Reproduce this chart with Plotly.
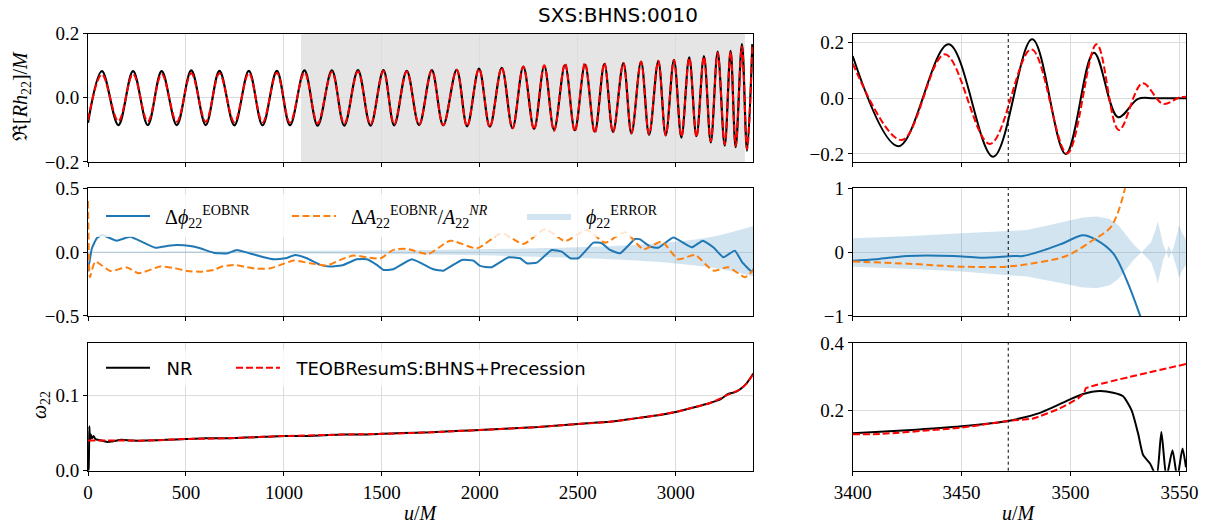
import plotly.graph_objects as go

# ------------------------------------------------------------------ data
# Panel 1 (left): extrema of Re[R h22]/M  (u/M, value)
wave_t = [0, 71, 155, 230, 305, 376, 453, 527, 601, 671, 747, 821, 891, 964, 1031, 1105,
          1172, 1245, 1308, 1378, 1442, 1508, 1563, 1627, 1690, 1755, 1813, 1882, 1935,
          1996, 2051, 2112, 2167, 2222, 2277, 2329, 2379, 2435, 2485, 2537, 2587, 2636,
          2680, 2733, 2774, 2823, 2864, 2911, 2949, 2991, 3029, 3069, 3106, 3144, 3179,
          3214, 3250, 3280, 3306, 3338, 3364, 3391]
wave_nr = [-0.078, 0.083, -0.085, 0.083, -0.085, 0.083, -0.085, 0.085, -0.085, 0.084,
           -0.086, 0.084, -0.086, 0.084, -0.086, 0.085, -0.087, 0.085, -0.087, 0.086,
           -0.087, 0.086, -0.086, 0.084, -0.085, 0.086, -0.086, 0.087, -0.089, 0.091,
           -0.090, 0.093, -0.095, 0.097, -0.097, 0.099, -0.100, 0.102, -0.101, 0.103,
           -0.106, 0.106, -0.107, 0.108, -0.111, 0.113, -0.116, 0.114, -0.117, 0.118,
           -0.124, 0.126, -0.120, 0.130, -0.139, 0.144, -0.149, 0.146, -0.154, 0.167,
           -0.165, 0.167]
wave_eob = [-0.070, 0.073, -0.073, 0.074, -0.074, 0.074, -0.075, 0.076, -0.075, 0.076,
            -0.076, 0.077, -0.077, 0.078, -0.078, 0.079, -0.080, 0.080, -0.081, 0.082,
            -0.083, 0.083, -0.083, 0.082, -0.084, 0.085, -0.086, 0.087, -0.089, 0.090,
            -0.092, 0.094, -0.095, 0.097, -0.099, 0.101, -0.103, 0.107, -0.105, 0.108,
            -0.110, 0.108, -0.108, 0.108, -0.110, 0.112, -0.114, 0.115, -0.117, 0.118,
            -0.121, 0.124, -0.122, 0.128, -0.135, 0.140, -0.145, 0.144, -0.150, 0.160,
            -0.160, 0.162]

# Panel 1 (right, merger zoom)
zwave_t_nr = [3400, 3421, 3444, 3464.5, 3482.4, 3497.8, 3510.7, 3521.8, 3531, 3538, 3545, 3553]
zwave_nr = [0.152, -0.172, 0.194, -0.210, 0.212, -0.200, 0.164, -0.068, -0.002, 0.0, 0.0, 0.0]
zwave_t_eob = [3400, 3422.5, 3442.3, 3463, 3482, 3498.4, 3512, 3522.2, 3533, 3542.5, 3550, 3553]
zwave_eob = [0.125, -0.150, 0.158, -0.164, 0.176, -0.198, 0.194, -0.114, 0.054, -0.020, 0.003, 0.006]

# Panel 2 (left): phase and relative amplitude differences
dphi_t = [0, 5, 20, 45, 71, 146, 215, 283, 343, 403, 454, 522, 573, 641, 709, 760, 828, 897,
          948, 1008, 1058, 1117, 1185, 1236, 1304, 1372, 1423, 1474, 1508, 1559, 1653, 1763,
          1814, 1908, 1967, 2001, 2061, 2146, 2206, 2240, 2291, 2367, 2418, 2461, 2503, 2580,
          2622, 2665, 2716, 2792, 2818, 2869, 2911, 2988, 3082, 3138, 3192, 3243, 3302, 3337,
          3388, 3396]
dphi = [-0.15, -0.10, 0.03, 0.11, 0.135, 0.09, 0.12, 0.075, 0.035, 0.048, 0.056, 0.048,
        0.03, -0.004, -0.01, 0.017, -0.01, -0.04, -0.056, -0.048, -0.022, -0.048, -0.10,
        -0.113, -0.10, -0.056, -0.056, -0.10, -0.14, -0.134, -0.056, -0.134, -0.145, -0.061,
        -0.066, -0.108, -0.118, -0.04, -0.048, -0.087, -0.082, 0.017, 0.004, -0.048, -0.048,
        0.075, 0.07, 0.017, -0.009, 0.103, 0.100, 0.043, 0.035, 0.114, 0.038, 0.09, 0.038,
        -0.04, 0.012, -0.074, -0.153, -0.134]
damp_t = [0, 3, 10, 37, 114, 199, 258, 369, 437, 505, 573, 641, 684, 743, 811, 862, 930,
          998, 1049, 1134, 1219, 1287, 1355, 1423, 1491, 1559, 1627, 1738, 1849, 1985, 2112,
          2222, 2333, 2435, 2546, 2639, 2741, 2835, 2928, 3013, 3098, 3192, 3268, 3354, 3396]
damp = [0.40, 0.10, -0.196, -0.074, -0.147, -0.12, -0.165, -0.113, -0.125, -0.147, -0.153,
        -0.14, -0.113, -0.10, -0.118, -0.13, -0.126, -0.092, -0.066, -0.087, -0.105, -0.061,
        -0.027, -0.04, -0.05, 0.018, 0.025, -0.014, 0.09, 0.03, 0.148, 0.064, 0.179, 0.087,
        0.174, 0.075, 0.156, 0.023, 0.082, -0.056, -0.022, -0.145, -0.118, -0.196, -0.14]
err_t = [0, 500, 1000, 1500, 2000, 2500, 2800, 3000, 3200, 3396]
err_hi = [0.005, 0.007, 0.010, 0.013, 0.022, 0.038, 0.058, 0.082, 0.125, 0.205]
err_lo = [-0.005, -0.007, -0.010, -0.015, -0.025, -0.045, -0.065, -0.088, -0.125, -0.190]

# Panel 2 (right, merger zoom)
zdphi_t = [3400, 3411, 3425, 3446, 3458.5, 3474, 3478, 3489, 3496.6, 3505.8, 3512, 3519.6,
           3525.7, 3532, 3535]
zdphi = [-0.133, -0.11, -0.06, -0.06, -0.086, -0.06, -0.06, 0.045, 0.14, 0.265, 0.19, -0.02,
         -0.435, -1.0, -1.3]
zdamp_t = [3400, 3427.8, 3449, 3470.4, 3482.8, 3498, 3510.4, 3518, 3521, 3525, 3527]
zdamp = [-0.148, -0.185, -0.227, -0.227, -0.174, -0.06, 0.19, 0.374, 0.556, 1.0, 1.4]
zerr_t = [3400, 3425, 3450, 3480, 3495, 3505, 3512, 3518, 3522, 3526, 3529, 3532.6, 3535,
          3537, 3539, 3540, 3541, 3542.5, 3544, 3545.1, 3546.5, 3547.5, 3549, 3549.8, 3551, 3553]
zerr_hi = [0.217, 0.25, 0.296, 0.347, 0.46, 0.54, 0.56, 0.52, 0.42, 0.25, 0.12, 0.0, 0.08,
           0.16, 0.35, 0.48, 0.35, 0.12, 0.0, 0.10, 0.0, 0.10, 0.30, 0.43, 0.32, 0.20]
zerr_lo = [-0.227, -0.26, -0.305, -0.383, -0.48, -0.55, -0.565, -0.52, -0.42, -0.25, -0.12,
           0.0, -0.08, -0.16, -0.35, -0.49, -0.35, -0.12, 0.0, -0.10, 0.0, -0.10, -0.28,
           -0.41, -0.30, -0.20]

# Panel 3 (left): frequency
om_t_nr = [0, 3, 7, 10, 14, 20, 28, 38, 50, 70, 100, 130, 170, 220, 300, 400, 500, 600, 700,
           800, 900, 1000, 1100, 1200, 1300, 1400, 1500, 1600, 1750, 1900, 2000, 2150, 2300,
           2400, 2500, 2600, 2665, 2750, 2835, 2920, 3000, 3090, 3175, 3230, 3268, 3300, 3328,
           3362, 3396]
om_nr = [0.0, 0.002, 0.059, 0.040, 0.048, 0.043, 0.046, 0.042, 0.041, 0.040, 0.038, 0.039,
         0.041, 0.040, 0.040, 0.041, 0.042, 0.043, 0.043, 0.044, 0.045, 0.046, 0.046, 0.047,
         0.048, 0.048, 0.049, 0.050, 0.051, 0.053, 0.054, 0.056, 0.058, 0.060, 0.062, 0.064,
         0.065, 0.068, 0.071, 0.074, 0.078, 0.084, 0.090, 0.095, 0.102, 0.104, 0.108, 0.116,
         0.129]
om_t_eob = [0, 100, 200, 300, 500, 700, 1000, 1300, 1500, 1750, 2000, 2300, 2500, 2665,
            2835, 3000, 3090, 3175, 3268, 3328, 3362, 3396]
om_eob = [0.040, 0.040, 0.040, 0.040, 0.042, 0.043, 0.046, 0.048, 0.049, 0.051, 0.054, 0.058,
          0.062, 0.065, 0.071, 0.078, 0.084, 0.090, 0.101, 0.108, 0.116, 0.129]

# Panel 3 (right, merger zoom)
zom_t_nr = [3400, 3425, 3450, 3471.4, 3486, 3499.8, 3505.8, 3513.5, 3519.6, 3524, 3528, 3531,
            3533.3, 3536.4, 3539.5, 3541.7, 3544, 3546.8, 3549, 3551.4, 3553]
zom_nr = [0.131, 0.140, 0.152, 0.168, 0.192, 0.232, 0.248, 0.257, 0.252, 0.242, 0.200, 0.131,
          0.067, 0.042, 0.005, 0.135, 0.000, 0.081, 0.000, 0.086, 0.030]
zom_t_eob = [3400, 3412.5, 3450, 3471.4, 3482.8, 3495, 3503.5, 3506.2, 3507.0, 3553]
zom_eob = [0.128, 0.129, 0.148, 0.168, 0.175, 0.205, 0.235, 0.250, 0.265, 0.337]

title_text = "SXS:BHNS:0010"
left_xticks = [0, 500, 1000, 1500, 2000, 2500, 3000]
right_xticks = [3400, 3450, 3500, 3550]

# ------------------------------------------------------------------ style
W, H = 1211, 529
BLUE = "#1f77b4"
ORANGE = "#ff7f0e"
BAND = "rgba(31,119,180,0.2)"
SERIF = "Liberation Serif"
SANS = "DejaVu Sans"
GAP = "\u00a0\u00a0"


def px(p):
    return p / W


def py(p):
    return 1 - p / H


fig = go.Figure()

XL, XR = [px(88), px(753.3)], [px(852.7), px(1186)]
Y1, Y2, Y3 = [py(162), py(33.5)], [py(316), py(188.3)], [py(470.7), py(342.7)]


def line(x, y, xa, ya, color, width=2, dash=None, name=None, legend=None, smooth=1.0):
    fig.add_trace(go.Scatter(
        x=x, y=y, xaxis=xa, yaxis=ya, mode="lines",
        line=dict(color=color, width=width, dash=dash, shape="spline", smoothing=smooth),
        name=name, showlegend=legend is not None, legend=legend or "legend",
        hoverinfo="skip"))


def band(x, lo, hi, xa, ya, name=None, legend=None, shape="spline"):
    fig.add_trace(go.Scatter(x=x, y=lo, xaxis=xa, yaxis=ya, mode="lines",
                             line=dict(width=0, shape=shape), showlegend=False, hoverinfo="skip"))
    fig.add_trace(go.Scatter(x=x, y=hi, xaxis=xa, yaxis=ya, mode="lines", fill="tonexty",
                             fillcolor=BAND, line=dict(width=0, shape=shape), name=name,
                             showlegend=legend is not None, legend=legend or "legend",
                             hoverinfo="skip"))


RED_DASH = "7px,3px"
OR_DASH = "7px,3.5px"

# row 1
line(wave_t, wave_nr, "x", "y", "black", 2.2)
line(wave_t, wave_eob, "x", "y", "red", 2, RED_DASH)
line(zwave_t_nr, zwave_nr, "x2", "y2", "black", 2)
line(zwave_t_eob, zwave_eob, "x2", "y2", "red", 2, RED_DASH)

# row 2
band(err_t, err_lo, err_hi, "x3", "y3",
     name=GAP + "<i>ϕ</i><sub>22</sub><sup>ERROR</sup>", legend="legend3")
line(dphi_t, dphi, "x3", "y3", BLUE, 2,
     name=GAP + "Δ<i>ϕ</i><sub>22</sub><sup>EOBNR</sup>", legend="legend", smooth=0.4)
line(damp_t, damp, "x3", "y3", ORANGE, 2, OR_DASH,
     name=GAP + "Δ<i>A</i><sub>22</sub><sup>EOBNR</sup>/<i>A</i><sub>22</sub><sup><i>NR</i></sup>",
     legend="legend2", smooth=0.6)
band(zerr_t, zerr_lo, zerr_hi, "x4", "y4", shape="linear")
line(zdphi_t, zdphi, "x4", "y4", BLUE, 2)
line(zdamp_t, zdamp, "x4", "y4", ORANGE, 2, OR_DASH)

# row 3
line(om_t_nr, om_nr, "x5", "y5", "black", 2, name=GAP + "NR", legend="legend4", smooth=0.5)
line(om_t_eob, om_eob, "x5", "y5", "red", 2, RED_DASH,
     name=GAP + "TEOBResumS:BHNS+Precession", legend="legend5")
line(zom_t_nr, zom_nr, "x6", "y6", "black", 2, smooth=0.6)
line(zom_t_eob, zom_eob, "x6", "y6", "red", 2, RED_DASH, smooth=0.3)

# ------------------------------------------------------------------ axes
axis_common = dict(showline=True, mirror=True, linecolor="black", linewidth=1,
                   ticks="outside", ticklen=4, tickwidth=1, tickcolor="black",
                   showgrid=True, gridcolor="#dcdcdc", gridwidth=1, zeroline=False,
                   automargin=False,
                   tickfont=dict(family=SERIF, size=19, color="black"))

layout = dict(
    width=W, height=H, margin=dict(l=0, r=0, t=0, b=0, pad=0, autoexpand=False),
    paper_bgcolor="white", plot_bgcolor="white", showlegend=True,
)
xdefs = {
    "xaxis": (XL, "y", [0, 3396], left_xticks, False),
    "xaxis2": (XR, "y2", [3400, 3553], right_xticks, False),
    "xaxis3": (XL, "y3", [0, 3396], left_xticks, False),
    "xaxis4": (XR, "y4", [3400, 3553], right_xticks, False),
    "xaxis5": (XL, "y5", [0, 3396], left_xticks, True),
    "xaxis6": (XR, "y6", [3400, 3553], right_xticks, True),
}
for k, (dom, anc, rng, tv, lab) in xdefs.items():
    layout[k] = dict(axis_common, domain=dom, anchor=anc, range=rng, tickvals=tv,
                     showticklabels=lab)
ydefs = {
    "yaxis": (Y1, "x", [-0.2002, 0.2002], [-0.2, 0.0, 0.2], ".1f"),
    "yaxis2": (Y1, "x2", [-0.229, 0.233], [-0.2, 0.0, 0.2], ".1f"),
    "yaxis3": (Y2, "x3", [-0.5005, 0.5005], [-0.5, 0.0, 0.5], ".1f"),
    "yaxis4": (Y2, "x4", [-1.001, 1.001], [-1, 0, 1], "d"),
    "yaxis5": (Y3, "x5", [0, 0.17], [0.0, 0.1], ".1f"),
    "yaxis6": (Y3, "x6", [0.02, 0.4005], [0.2, 0.4], ".1f"),
}
for k, (dom, anc, rng, tv, fmt) in ydefs.items():
    layout[k] = dict(axis_common, domain=dom, anchor=anc, range=rng, tickvals=tv,
                     tickformat=fmt)

# legends
leg_common = dict(orientation="h", bgcolor="rgba(0,0,0,0)", borderwidth=0,
                  xanchor="left", yanchor="middle", itemwidth=44,
                  font=dict(family=SERIF, size=20, color="black"))
layout["legend"] = dict(leg_common, x=px(101), y=py(216))
layout["legend2"] = dict(leg_common, x=px(287), y=py(216))
layout["legend3"] = dict(leg_common, x=px(522), y=py(216))
layout["legend4"] = dict(leg_common, x=px(101), y=py(368),
                         font=dict(family=SANS, size=18, color="black"))
layout["legend5"] = dict(leg_common, x=px(231), y=py(368),
                         font=dict(family=SANS, size=18, color="black"))

shapes = [
    # analysis window shading
    dict(type="rect", xref="x", yref="y domain", x0=1087, x1=3353, y0=0, y1=1,
         fillcolor="#e5e5e5", line=dict(width=0), layer="below"),
    # legend frames (semi-transparent white)
    dict(type="rect", xref="paper", yref="paper", x0=px(93), x1=px(660), y0=py(237), y1=py(194),
         fillcolor="rgba(255,255,255,0.8)", line=dict(width=0), layer="above"),
    dict(type="rect", xref="paper", yref="paper", x0=px(93), x1=px(590), y0=py(386), y1=py(350),
         fillcolor="rgba(255,255,255,0.8)", line=dict(width=0), layer="above"),
]
for xa, ya in (("x2", "y2"), ("x4", "y4"), ("x6", "y6")):
    shapes.append(dict(type="line", xref=xa, yref=ya + " domain", x0=3471.4, x1=3471.4,
                       y0=0, y1=1, line=dict(color="black", width=1, dash="dot"),
                       layer="above"))
layout["shapes"] = shapes

ann_font = dict(family=SERIF, size=20, color="black")
layout["annotations"] = [
    dict(text=title_text, x=px(618), y=py(15), xref="paper", yref="paper", showarrow=False,
         xanchor="center", yanchor="middle", font=dict(family=SANS, size=20, color="black")),
    dict(text="ℜ[<i>Rh</i><sub>22</sub>]/<i>M</i>", x=px(22), y=py(96), xref="paper",
         yref="paper", showarrow=False, textangle=-90, xanchor="center", yanchor="middle",
         font=ann_font),
    dict(text="<i>ω</i><sub>22</sub>", x=px(40), y=py(405), xref="paper", yref="paper",
         showarrow=False, textangle=-90, xanchor="center", yanchor="middle", font=ann_font),
    dict(text="<i>u</i>/<i>M</i>", x=px(421), y=py(513), xref="paper", yref="paper",
         showarrow=False, xanchor="center", yanchor="middle", font=ann_font),
    dict(text="<i>u</i>/<i>M</i>", x=px(1019), y=py(513), xref="paper", yref="paper",
         showarrow=False, xanchor="center", yanchor="middle", font=ann_font),
]

fig.update_layout(**layout)
fig.write_html("out.html")
